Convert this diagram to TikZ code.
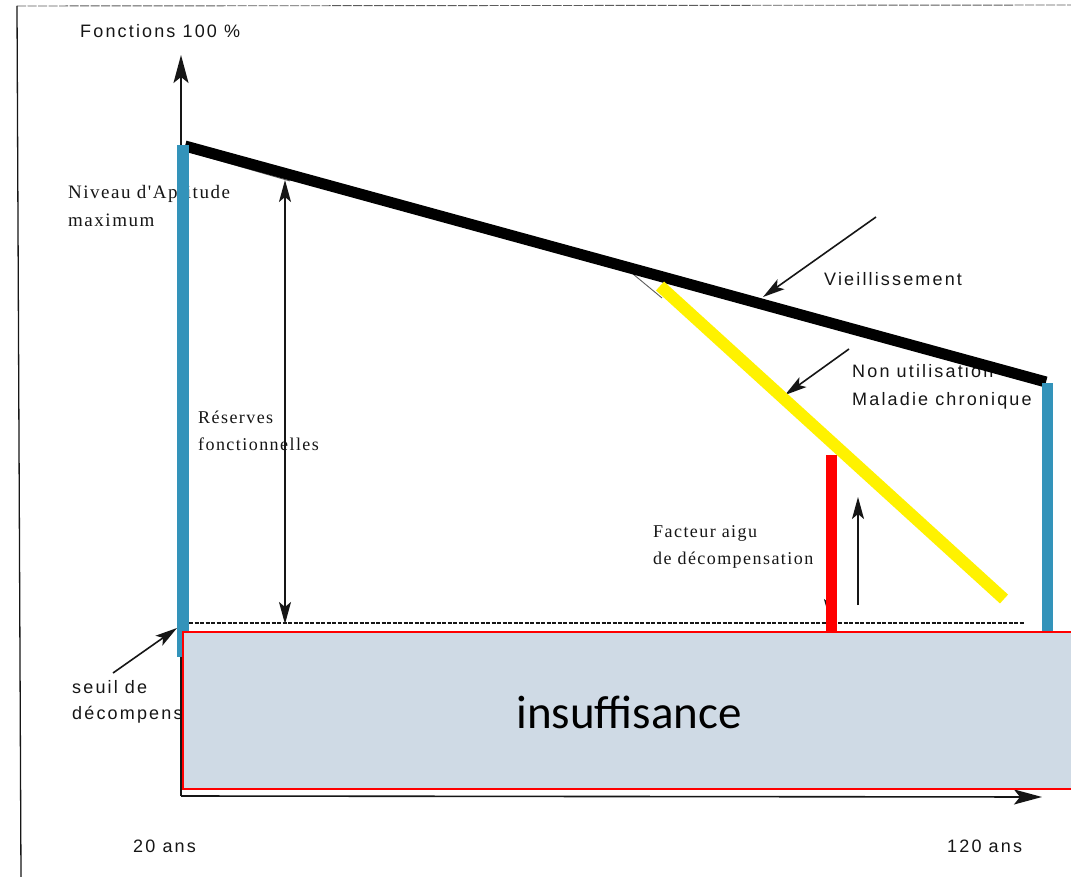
\documentclass[tikz,border=0pt]{standalone}
\usepackage{fontspec}
\setmainfont{Liberation Serif}
\setsansfont{Liberation Sans}
\newfontfamily\typed{Liberation Sans}[LetterSpace=12]
\newfontfamily\printed{Liberation Serif}[LetterSpace=8]
\newfontfamily\calib{Carlito}
\usetikzlibrary{arrows.meta}
\definecolor{barblue}{HTML}{3393BA}
\definecolor{boxfill}{HTML}{CFDAE5}
\definecolor{ink}{HTML}{161616}
\begin{document}
\begin{tikzpicture}[x=1pt,y=-1pt,
  tip/.tip={Stealth[length=22pt,width=12pt,inset=5pt]},
  bigtip/.tip={Stealth[length=28pt,width=15pt,inset=6pt]},
  lbl/.style={anchor=base west,inner sep=0pt,text=ink,font=\typed\fontsize{18}{20}\selectfont},
  ser/.style={anchor=base west,inner sep=0pt,text=ink,font=\printed\fontsize{18}{20}\selectfont},
  pointer/.style={draw=ink,line width=1.6pt,-tip},
  axis/.style={draw=ink,line width=1.6pt,-bigtip},
  twoway/.style={draw=ink,line width=1.6pt,tip-tip},
  bar/.style={line width=11.5pt,line cap=butt},
  scanline/.style={draw=ink!70,line width=0.9pt}]
\useasboundingbox (0,0) rectangle (1071,877);
\fill[white] (0,0) rectangle (1071,877);

% page frame of the scanned sheet
\draw[scanline,dash pattern=on 9pt off 1.5pt] (17,6) -- (1071,5);
\draw[ink,line width=1.3pt] (17,6) -- (21,877);

% axes
\coordinate (O) at (181,796);
\coordinate (ytip) at (181,55);
\coordinate (xtip) at (1042,797);
\draw[axis] (O) -- (ytip);
\draw[axis] (O) -- (xtip);

% decompensation threshold
\draw[ink,line width=1.5pt,dash pattern=on 4pt off 1.5pt] (189,623) -- (1024,623);

% functional reserves
\coordinate (rtop) at (285,180);
\coordinate (rbot) at (285,624);
\draw[twoway] (rtop) -- (rbot);

% original thin curves under the coloured overlays
\draw[scanline] (186,151) -- (290,181);
\draw[scanline] (633,274) -- (662,298);
\draw[pointer] (830,470) -- (830,621);

% acute factor arrow
\coordinate (utail) at (858,605);
\coordinate (uhead) at (858,497);
\draw[pointer] (utail) -- (uhead);

% texts
\node[lbl] (fonct) at (80,38) {Fonctions 100 \%};
\node[ser,font=\printed\fontsize{19}{21}\selectfont] (niv1) at (68,199) {Niveau d'Aptitude};
\node[ser,font=\printed\fontsize{19}{21}\selectfont] (niv2) at (68,227) {maximum};
\node[ser] (res1) at (198,423) {Réserves};
\node[ser] (res2) at (198,450) {fonctionnelles};
\node[ser] (fac1) at (653,537) {Facteur aigu};
\node[ser] (fac2) at (653,564) {de décompensation};
\node[lbl] (vieil) at (824,286) {Vieillissement};
\node[lbl] (non1) at (852,377) {Non utilisation};
\node[lbl] (non2) at (852,405) {Maladie chronique};
\node[lbl] (seuil1) at (72,693) {seuil de};
\node[lbl] (seuil2) at (72,719) {décompensation};
\node[lbl] (age1) at (133,852) {20 ans};
\node[lbl] (age2) at (947,852) {120 ans};

% label pointers
\coordinate (vtail) at (876,217);
\coordinate (vhead) at (763,297);
\draw[pointer] (vtail) -- (vhead);
\coordinate (ntail) at (849,349);
\coordinate (nhead) at (785,395);
\draw[pointer] (ntail) -- (nhead);
\coordinate (stail) at (113,673);
\coordinate (shead) at (177,628);
\draw[pointer] (stail) -- (shead);

% coloured overlays
\coordinate (a0) at (185,146);
\coordinate (a1) at (1046,382);
\draw[bar,black,line width=11pt] (a0) -- (a1);
\coordinate (c0) at (660,286);
\coordinate (c1) at (1004,599);
\draw[bar,yellow,line width=12pt] (c0) -- (c1);
\draw[bar,red,line width=11pt] (831.5,455) -- (831.5,631);
\draw[bar,barblue,line width=12pt] (183,145) -- (183,657);
\draw[bar,barblue,line width=11pt] (1047.5,383) -- (1047.5,631);

% insufficiency zone
\node[draw=red,line width=1.5pt,fill=boxfill,minimum width=900pt,minimum height=157pt,
      anchor=north west,inner sep=0pt] (zone) at (182,631) {};
\node[font=\calib\fontsize{47}{50}\selectfont,anchor=base,inner sep=0pt] (zlabel) at (629,728) {insuffisance};
\end{tikzpicture}
\end{document}
